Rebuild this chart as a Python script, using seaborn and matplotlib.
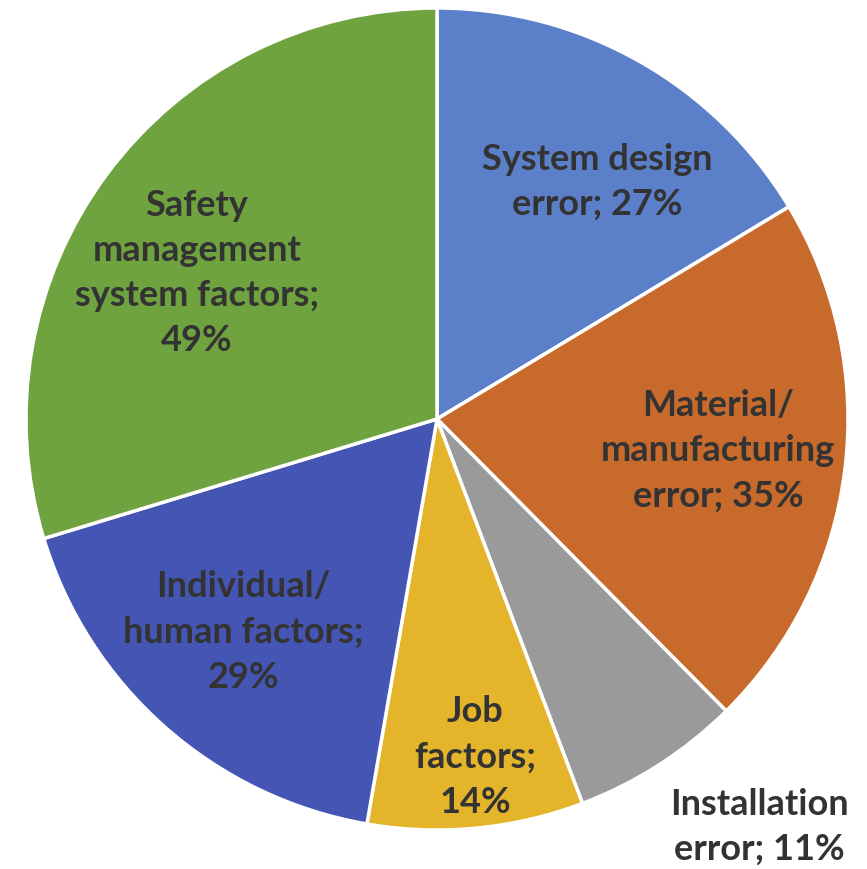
import matplotlib
matplotlib.use("Agg")
import matplotlib.pyplot as plt
import seaborn as sns

# Root-cause shares (labels as printed on the chart)
categories = [
    "System design\nerror",
    "Material/\nmanufacturing\nerror",
    "Installation\nerror",
    "Job\nfactors",
    "Individual/\nhuman factors",
    "Safety\nmanagement\nsystem factors",
]
values = [27, 35, 11, 14, 29, 49]
label_texts = [
    "System design\nerror; 27%",
    "Material/\nmanufacturing\nerror; 35%",
    "Installation\nerror; 11%",
    "Job\nfactors;\n14%",
    "Individual/\nhuman factors;\n29%",
    "Safety\nmanagement\nsystem factors;\n49%",
]

sns.set_theme(style="white")
plt.rcParams["font.family"] = ["Lato", "DejaVu Sans"]

palette = sns.color_palette(
    ["#5b80c9", "#c86a2c", "#9a9a9a", "#e4b42a", "#4455b3", "#6fa33f"]
)

W, H = 867, 869
fig = plt.figure(figsize=(W / 100, H / 100), dpi=100)
ax = fig.add_axes([0, 0, 1, 1])

# pie geometry in pixels
cx, cy, r = 437, 419, 411

ax.pie(
    values,
    colors=palette,
    startangle=90,
    counterclock=False,
    radius=1.0,
    center=(0, 0),
    wedgeprops=dict(edgecolor="white", linewidth=2.5),
    frame=True,
)
ax.set_xlim(-cx / r, (W - cx) / r)
ax.set_ylim(-(H - cy) / r, cy / r)
ax.set_aspect("equal")
ax.axis("off")

# label centres in pixel coordinates (from top-left)
label_px = [(597, 182), (718, 451), (759, 827), (475, 757), (243, 632), (197, 273)]
for txt, (px, py) in zip(label_texts, label_px):
    ax.text(
        (px - cx) / r,
        (cy - py) / r,
        txt,
        ha="center",
        va="center",
        multialignment="center",
        fontsize=26,
        fontweight="bold",
        color="#333333",
        linespacing=1.45,
    )

fig.savefig("out.png", dpi=100, facecolor="white")
